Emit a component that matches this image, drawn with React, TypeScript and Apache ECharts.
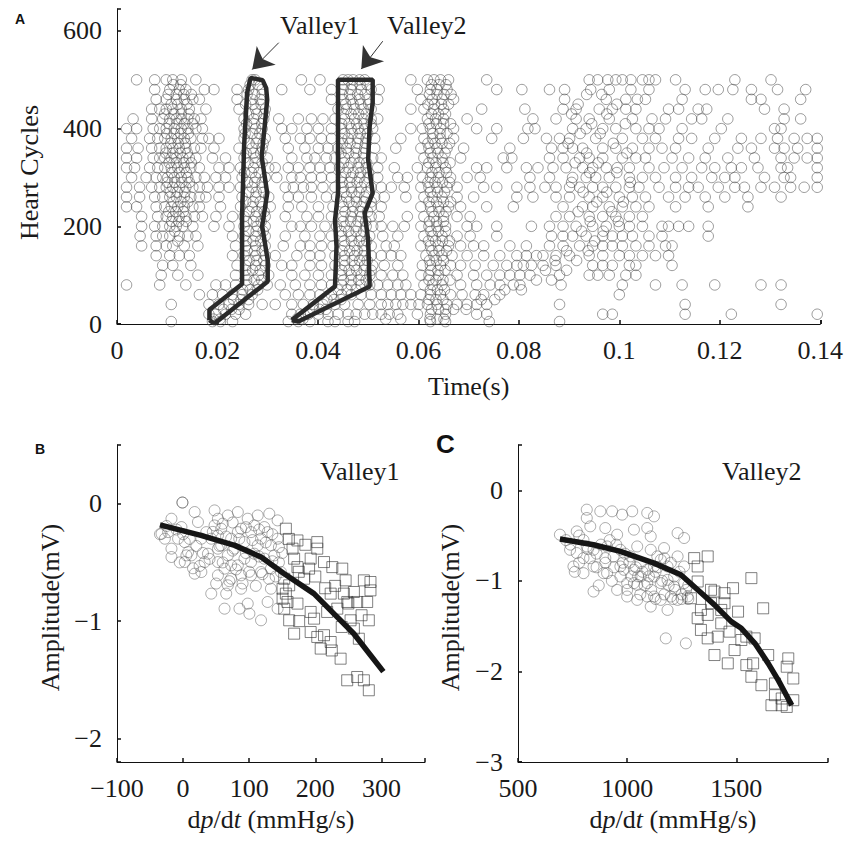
import React, { useEffect, useRef } from 'react';
import * as echarts from 'echarts';

const SERIF = '"Liberation Serif", "Times New Roman", serif';
const SANS = '"Liberation Sans", Arial, sans-serif';

// ---------- Panel A: heart cycles vs valley time ----------
const cyclesA = [500, 480, 460, 440, 420, 400, 380, 360, 340, 320, 300, 280, 260, 240, 220, 200, 180, 160, 140, 120, 100, 80, 60, 40, 20, 5];
const timesA: number[][] = [
  [.0039,.0075,.0098,.0111,.0128,.0157,.0269,.0275,.0367,.0404,.045,.046,.047,.0483,.0493,.0585,.0618,.0631,.0644,.066,.0736,.094,.0957,.0977,.0993,.1006,.1023,.1046,.1059,.1072,.1112,.123,.1302],
  [.0075,.0105,.0124,.0137,.0174,.0193,.0239,.0262,.0289,.0328,.0384,.0427,.045,.0466,.0486,.0506,.0522,.0598,.0624,.0637,.0657,.0756,.0806,.0861,.0891,.0943,.098,.1023,.1059,.1131,.1171,.1197,.1226,.1263,.1315,.1371],
  [.0078,.0098,.0118,.0134,.0151,.0164,.0239,.0269,.0285,.0427,.045,.0466,.0483,.05,.0519,.0605,.0628,.0647,.067,.0891,.0974,.1013,.1036,.1052,.1125,.1263,.1282,.1361],
  [.0069,.0085,.0098,.0111,.0128,.0144,.0177,.0243,.0276,.0295,.044,.0457,.0473,.049,.0506,.0585,.0611,.0631,.065,.0726,.0812,.0888,.0914,.096,.0986,.1013,.1033,.1098,.1118,.1157,.1174,.1289,.1328],
  [.0032,.0069,.0091,.0105,.0118,.0128,.0141,.0154,.0167,.0253,.0272,.0292,.0322,.0361,.0387,.041,.0434,.0453,.0473,.049,.0506,.0519,.0618,.0634,.065,.0697,.0828,.0874,.0914,.094,.098,.1026,.1065,.1092,.1144,.1164,.1216,.1328,.1361],
  [.0019,.0039,.0072,.0085,.0098,.0114,.0128,.0141,.0157,.017,.0253,.0276,.0289,.0328,.0348,.0378,.0401,.0427,.0447,.0466,.048,.0493,.0509,.0585,.0608,.0624,.0644,.067,.0716,.0756,.0818,.0832,.0907,.0934,.0967,.0993,.1033,.1059,.1079,.1125,.1203,.1309,.1322],
  [.0029,.0065,.0081,.0095,.0108,.0121,.0134,.0147,.017,.0183,.0203,.0253,.0279,.0295,.0335,.0365,.0384,.0407,.0427,.0447,.046,.048,.0496,.0513,.0565,.0611,.0628,.0644,.067,.0746,.0809,.0855,.0881,.0901,.0953,.1006,.1046,.1072,.1118,.1144,.119,.1243,.1282,.1315,.1348,.1374,.1394],
  [.0019,.0042,.0069,.0085,.0098,.0111,.0124,.0137,.0154,.0167,.0193,.0243,.0269,.0289,.0341,.0374,.0401,.042,.044,.0457,.0476,.0493,.0513,.0555,.0605,.0621,.0637,.0657,.069,.0782,.0865,.0888,.0907,.0927,.0967,.0993,.1026,.1059,.1085,.1112,.1177,.1236,.1263,.1309,.1328,.1355,.1394],
  [.0019,.0039,.0072,.0085,.0095,.0108,.0118,.0131,.0144,.0157,.019,.0216,.0253,.0276,.0299,.0348,.0378,.0394,.0417,.0434,.0453,.0473,.049,.0509,.0526,.0611,.0628,.0647,.0684,.0769,.0786,.0861,.0888,.0921,.094,.0967,.1006,.1033,.1052,.1105,.1138,.1171,.1216,.1269,.1322,.1348,.1374,.1394],
  [.0019,.0035,.0065,.0081,.0095,.0108,.0121,.0134,.0147,.0164,.0203,.0223,.0246,.0272,.0302,.0315,.0341,.0361,.0384,.0404,.0424,.0443,.046,.048,.0496,.0519,.0552,.0598,.0618,.0634,.0654,.0716,.0736,.0776,.0815,.0838,.0868,.0894,.0927,.0947,.0974,.0996,.102,.1059,.1089,.1125,.1164,.119,.1223,.1243,.1276,.1322,.1335,.1394],
  [.0029,.0058,.0078,.0091,.0101,.0114,.0128,.0141,.0157,.0174,.0197,.0216,.0249,.0276,.0295,.0318,.0348,.0365,.0387,.0407,.0427,.0447,.0466,.0483,.05,.0519,.0559,.0578,.0608,.0624,.064,.0664,.0697,.0723,.0822,.0861,.0907,.0934,.0953,.098,.102,.1046,.1072,.1112,.1144,.1184,.121,.123,.1289,.1328,.1341,.1394],
  [.0019,.0045,.0069,.0085,.0098,.0111,.0124,.0137,.0151,.0164,.018,.0203,.0223,.0246,.0269,.0289,.0335,.0351,.0371,.0387,.041,.0434,.045,.0466,.0486,.0506,.0526,.0546,.0572,.0605,.0621,.0637,.0657,.0677,.073,.0756,.0796,.0822,.0852,.0874,.0901,.0921,.0947,.0967,.0993,.102,.1039,.1079,.1112,.1138,.1157,.1197,.123,.1249,.1282,.1309,.1341,.1368,.1394],
  [.0019,.0045,.0075,.0091,.0105,.0118,.0134,.0147,.0164,.0177,.0203,.0249,.0276,.0302,.0341,.0361,.0387,.0417,.0437,.0457,.0476,.0493,.0513,.0532,.0575,.0611,.0628,.0647,.0677,.071,.0796,.0828,.0874,.0901,.094,.0967,.1,.1026,.1052,.1098,.1131,.1171,.121,.1256,.1322],
  [.0019,.0039,.0078,.0095,.0108,.0121,.0134,.0151,.0164,.0206,.0246,.0269,.0289,.0305,.0341,.0368,.0401,.043,.045,.047,.0486,.0506,.0526,.0605,.0624,.064,.066,.0684,.0736,.0789,.0888,.0927,.0947,.098,.1006,.1033,.1059,.1112,.1177,.1256],
  [.0049,.0081,.0098,.0111,.0124,.0137,.0154,.017,.0197,.023,.0253,.0276,.0295,.0335,.0378,.0401,.0427,.045,.0466,.0486,.0506,.0522,.0578,.0611,.0631,.065,.0677,.0703,.0874,.0901,.094,.0967,.0993,.102,.1046],
  [.0049,.0075,.0091,.0105,.0118,.0131,.0151,.0193,.0223,.0253,.0279,.0295,.0348,.0365,.0387,.0414,.0437,.0453,.0476,.0496,.0509,.0526,.0549,.0572,.0605,.0621,.0637,.0654,.0697,.0716,.0756,.0825,.0861,.0888,.0914,.0947,.0974,.1,.102,.1046,.1085,.1098,.1118,.1138,.1177],
  [.0046,.0078,.0091,.0105,.0124,.0141,.0157,.023,.0253,.0276,.0295,.0335,.0374,.0404,.0427,.0447,.0466,.0486,.0503,.0529,.0559,.0611,.0628,.0647,.0677,.0703,.0756,.0865,.0888,.0907,.0934,.0967,.0986,.1006,.1026,.1059,.1085,.1177],
  [.0049,.0078,.0098,.0111,.0134,.0161,.0236,.0256,.0276,.0295,.0331,.0365,.0384,.0407,.043,.0453,.0473,.049,.0506,.0536,.0552,.0605,.0624,.064,.066,.0684,.071,.073,.0782,.0815,.0861,.0888,.0921,.0947,.0967,.0986,.1006,.1033,.1059,.1092,.1105],
  [.0078,.0105,.0124,.0144,.023,.0253,.0276,.0295,.0315,.0358,.0384,.0404,.0434,.0453,.0473,.049,.0506,.0526,.0546,.0565,.0615,.0631,.0647,.0667,.0697,.073,.0762,.0796,.0815,.0835,.0848,.0874,.0901,.094,.0967,.1,.102,.1046,.1072,.1098],
  [.0091,.0111,.0147,.0239,.0256,.0276,.0295,.0328,.0348,.0384,.0407,.0434,.0453,.0473,.0493,.0509,.0532,.0559,.0608,.0624,.0644,.0664,.0684,.0713,.0749,.0776,.0796,.0809,.0825,.0848,.0874,.0947,.0967,.0986,.102,.1033,.1105],
  [.0088,.0121,.0161,.0236,.0259,.0282,.0302,.0348,.0374,.0401,.0427,.0447,.0466,.0486,.0503,.0526,.0549,.0569,.0605,.0621,.064,.0677,.071,.0736,.0762,.0782,.0802,.0822,.0881,.094,.0957,.098,.1013,.1033],
  [.0019,.0085,.0137,.0197,.0216,.0236,.0259,.0282,.0299,.0325,.0355,.0384,.0407,.0427,.0447,.0466,.0486,.0503,.0519,.0539,.0559,.0575,.0611,.0628,.0647,.0684,.0716,.0743,.0762,.0789,.0802,.0884,.1006,.1072,.1125,.119,.1282,.1322],
  [.0164,.019,.021,.023,.0249,.0269,.0335,.0361,.0384,.0404,.0427,.0447,.0466,.0486,.0506,.0526,.0546,.0565,.0585,.0605,.0624,.0644,.0664,.0687,.0713,.073,.0762,.1],
  [.0108,.0183,.0203,.0223,.0243,.0262,.0289,.0315,.0348,.0371,.0391,.041,.0434,.0453,.048,.0503,.0526,.0539,.0555,.0569,.0585,.0601,.0618,.0637,.0657,.0677,.0697,.0716,.0736,.0881,.1131,.1322],
  [.0183,.0197,.0216,.0236,.0256,.0348,.0365,.0381,.0401,.042,.044,.046,.0476,.0493,.0509,.0526,.0542,.0559,.0598,.0624,.0654,.0716,.0736,.0967,.0986,.1131,.1223,.1394],
  [.0108,.019,.0206,.023,.0341,.0361,.0384,.042,.0434,.046,.0473,.0624,.0654,.0741,.0881],
];
const cyclesA2 = [490, 470, 450, 430, 410, 390, 370, 350, 330, 310, 290, 270, 250, 230, 210, 190, 170, 150, 130, 110, 90, 70, 50, 30, 10];
const timesA2: number[][] = [
  [.0112,.0127,.0265,.0281,.0452,.0468,.0484,.0498,.0626,.0641,.0655],
  [.0102,.0118,.0133,.0148,.0259,.0274,.0289,.0448,.0463,.0479,.0494,.0622,.0637,.0651,.0665,.0935,.0965],
  [.0108,.0121,.0139,.0256,.0271,.0287,.0455,.047,.0485,.0501,.0619,.0632,.0646,.066,.0918,.0995],
  [.0095,.0113,.0128,.0143,.0262,.0278,.0293,.0451,.0466,.0481,.0496,.0626,.064,.0654,.0905,.0975],
  [.0104,.0119,.0134,.0151,.0258,.0273,.0288,.0447,.0462,.0477,.0492,.0506,.0621,.0636,.065,.0664,.0945,.1012],
  [.0099,.0114,.0127,.0142,.0255,.0269,.0284,.0453,.0468,.0484,.0499,.0629,.0643,.0657,.0922,.0962],
  [.0107,.0122,.0136,.0263,.0277,.0291,.0449,.0464,.0479,.0495,.0619,.0633,.0647,.0662,.0898,.0988],
  [.0097,.0111,.0126,.014,.0257,.0272,.0286,.0446,.0461,.0476,.0491,.0624,.0639,.0653,.0935,.1015],
  [.0104,.0118,.0133,.0148,.0261,.0275,.0289,.0451,.0466,.0482,.0497,.0621,.0635,.0649,.0663,.0912,.0958],
  [.0109,.0124,.0138,.0254,.0268,.0283,.0455,.047,.0485,.05,.0627,.0641,.0656,.0941,.0995],
  [.01,.0115,.0129,.0144,.026,.0274,.0289,.0448,.0463,.0478,.0493,.0619,.0633,.0648,.0662,.0905,.1022],
  [.0106,.012,.0135,.0262,.0277,.0292,.0452,.0467,.0482,.0497,.0624,.0638,.0652,.0928,.0975],
  [.0112,.0127,.0141,.0256,.0271,.0285,.0447,.0462,.0477,.0492,.0506,.0621,.0636,.065,.0664,.0955,.1008],
  [.0103,.0117,.0132,.0263,.0278,.0293,.0454,.0469,.0484,.0499,.0627,.0641,.0655,.0918,.0985],
  [.0109,.0123,.0138,.0258,.0272,.0287,.045,.0465,.048,.0495,.0622,.0636,.065,.0942,.0998],
  [.0115,.0262,.0277,.0291,.0446,.0461,.0476,.0491,.0625,.064,.0654,.0925,.0968],
  [.0121,.0257,.0271,.0286,.0452,.0467,.0482,.0497,.062,.0634,.0648,.0662,.0951],
  [.0259,.0274,.0289,.0448,.0463,.0478,.0493,.0627,.0641,.0656,.0895,.0938],
  [.0263,.0278,.0292,.0453,.0468,.0483,.0498,.0622,.0636,.065,.0872,.0915],
  [.0256,.027,.0285,.0447,.0462,.0477,.0492,.0506,.0625,.0639,.0653,.0853,.0895],
  [.0258,.0273,.0288,.0451,.0466,.0481,.0496,.0621,.0635,.0649,.0663,.0835,.0865],
  [.025,.0265,.028,.044,.0458,.0476,.0624,.0638,.0652,.0805,.0772],
  [.0232,.0247,.0262,.0418,.0432,.0446,.0621,.0635,.0649,.0752,.0725],
  [.0212,.0228,.0243,.039,.0403,.0416,.0626,.064,.0654,.0695,.067],
  [.0192,.0205,.0358,.037,.0623,.0637,.0651,.0535,.0565],
];
// Valley outlines (time, cycle)
const valley1Time = [.0184, .0184, .0249, .0249, .0253, .0259, .0266, .0290, .0297, .0299, .0294, .0288, .0299, .0289, .0300, .0300, .0194, .0184];
const valley1Cycle = [8, 29, 82, 220, 364, 473, 504, 499, 483, 459, 405, 343, 268, 200, 131, 87, 1, 8];
const valley2Time = [.0348, .0434, .0437, .0434, .0440, .0440, .0509, .0509, .0503, .0500, .0509, .0493, .0500, .0503, .0361, .0348];
const valley2Cycle = [8, 77, 159, 213, 268, 500, 500, 453, 405, 336, 268, 227, 172, 77, 5, 8];
// Arrows (start, tip) in data coords
const arrow1 = [[.0322, 576], [.02691, 521]];
const arrow2 = [[.0529, 579], [.04863, 522]];

// ---------- Panel B: Valley1 ----------
const bCircles: number[][] = [
  [-1,0.01],[-1,0.01],[-17.6,-0.128],[-32.6,-0.256],[-22.6,-0.242],[-2.5,-0.199],[17.5,-0.071],[22.5,-0.156],[47.6,-0.057],[52.7,-0.128],
  [57.7,-0.213],[67.7,-0.1],[82.8,-0.071],[97.8,-0.128],[112.9,-0.1],[130.4,-0.085],[143,-0.142],[127.9,-0.242],[102.8,-0.242],[82.8,-0.242],
  [72.7,-0.298],[42.6,-0.298],[27.6,-0.298],[2.5,-0.327],[-17.6,-0.383],[7.5,-0.412],[-17.6,-0.454],[2.5,-0.497],[17.5,-0.596],[27.6,-0.582],
  [37.6,-0.426],[52.7,-0.383],[67.7,-0.44],[77.7,-0.383],[92.8,-0.327],[112.9,-0.355],[132.9,-0.355],[143,-0.298],[137.9,-0.44],[122.9,-0.468],
  [102.8,-0.497],[82.8,-0.525],[62.7,-0.553],[52.7,-0.61],[72.7,-0.639],[87.8,-0.61],[102.8,-0.61],[117.9,-0.582],[132.9,-0.553],[148,-0.582],
  [67.7,-0.695],[87.8,-0.724],[42.6,-0.766],[65.2,-0.766],[97.8,-0.851],[62.7,-0.894],[85.3,-0.894],[100.3,-0.937],[117.9,-0.993],[127.9,-0.837],
  [143,-0.894],[132.9,-0.724],[52.7,-0.497],[72.7,-0.525],[92.8,-0.468],[107.8,-0.426],[117.9,-0.298],[52.7,-0.27],[12.5,-0.44],[32.6,-0.497],
  [57.7,-0.355],[87.8,-0.213],[107.8,-0.185],[122.9,-0.199],[47.6,-0.185],[35.1,-0.242],[-7.6,-0.298],[-27.6,-0.298],
  [60,-0.17],[75,-0.16],[95,-0.2],[115,-0.22],[135,-0.26],[45,-0.24],[65,-0.28],[85,-0.3],[105,-0.31],[125,-0.33],
  [145,-0.37],[55,-0.36],[75,-0.4],[95,-0.42],[115,-0.45],[135,-0.49],[40,-0.47],[60,-0.5],[80,-0.56],[100,-0.58],
  [120,-0.6],[140,-0.62],[30,-0.42],[20,-0.36],[10,-0.3],[0,-0.26],[-10,-0.22],[-25,-0.19],[-35,-0.26],[70,-0.66],
  [90,-0.68],[110,-0.7],[130,-0.64],[50,-0.68],[25,-0.53],[5,-0.44],[-5,-0.5],[15,-0.55],[145,-0.5],[150,-0.42],
];
const bSquares: number[][] = [
  [155.5,-0.213],[173,-0.313],[203,-0.327],[203,-0.383],[165.6,-0.383],[168,-0.468],[193,-0.468],[190.6,-0.553],[225.8,-0.54],[240.8,-0.553],
  [173,-0.54],[153,-0.639],[245.9,-0.653],[273.5,-0.653],[258.4,-0.752],[283.5,-0.738],[223.3,-0.766],[243.3,-0.766],[155.5,-0.766],[158,-0.837],
  [173,-0.851],[153,-0.894],[193,-0.922],[218,-0.922],[263.4,-0.837],[278.5,-0.837],[160.5,-0.993],[175.6,-1.0],[198.2,-0.979],[253.4,-0.993],
  [281,-0.993],[168,-1.107],[203,-1.135],[223.3,-1.178],[208.2,-1.234],[258.4,-1.064],[265.9,-1.15],[238.3,-1.32],[248.3,-1.504],[273.5,-1.504],
  [263.4,-1.476],[281,-1.589],[283.5,-0.667],[150.5,-0.724],[150.5,-0.809],[160.5,-0.695],[183,-0.639],[213.2,-0.497],[233.3,-0.894],[248.4,-0.837],
  [213.2,-1.12],[193,-1.093],[160,-0.3],[185,-0.35],[175,-0.58],[200,-0.62],[215,-0.72],[230,-0.7],[250,-0.85],[270,-0.95],[240,-1.05],[225,-1.25],
];
const bFitX = [-35, 27, 78, 118, 153, 198, 228, 258, 278, 303];
const bFitY = [-0.18, -0.27, -0.355, -0.454, -0.596, -0.766, -0.936, -1.106, -1.25, -1.43];

// ---------- Panel C: Valley2 ----------
const cCircles: number[][] = [
  [692,-0.49],[769,-0.454],[815,-0.214],[815,-0.306],[877,-0.232],[931,-0.232],[977,-0.269],[1023,-0.232],[1092,-0.25],[1123,-0.288],
  [831,-0.398],[900,-0.417],[954,-0.49],[1031,-0.435],[1092,-0.417],[1108,-0.509],[1231,-0.472],[1261,-0.527],[738.5,-0.657],[800,-0.749],
  [846,-0.841],[900,-0.749],[800,-0.915],[846,-1.118],[908,-0.915],[954,-1.1],[985,-0.878],[1015,-0.73],[1046,-0.62],[1062,-0.804],
  [1000,-1.025],[1046,-1.044],[1092,-1.173],[1108,-1.284],[1123,-0.952],[1138,-0.73],[1169,-0.638],[1185,-0.841],[1215,-1.063],[1231,-1.21],
  [1185,-1.321],[1277,-1.173],[1261,-1.025],[1261,-0.841],[1231,-0.73],[1177,-1.635],[1269,-1.69],[1092,-0.878],[969,-0.841],[908,-0.62],
  [969,-0.657],[1031,-0.878],[1154,-1.025],[1123,-1.173],[1046,-1.21],[1000,-1.173],[1215,-0.952],[1062,-0.952],[1123,-0.841],[1185,-0.989],
  [1154,-0.767],[1108,-0.657],[1200,-1.173],[1154,-1.21],[1092,-1.025],[1031,-1.025],[969,-0.952],[892,-0.915],[846,-0.657],[938,-0.73],
  [815,-0.62],[769,-0.693],[754,-0.841],
  [720,-0.55],[740,-0.6],[780,-0.5],[800,-0.55],[820,-0.65],[860,-0.7],[880,-0.6],[920,-0.55],[950,-0.6],[990,-0.7],
  [1010,-0.8],[1040,-0.85],[1070,-0.9],[1100,-0.95],[1130,-0.9],[1160,-1.0],[1190,-1.05],[1220,-1.1],[1250,-1.15],[1280,-1.2],
  [1270,-1.1],[1240,-0.9],[1200,-0.8],[1170,-0.75],[1140,-0.85],[1110,-1.1],[1080,-1.05],[1050,-0.95],[1020,-0.95],[980,-0.8],
  [940,-0.85],[900,-0.8],[860,-0.85],[830,-0.75],[780,-0.8],[760,-0.9],[870,-1.05],[930,-1.0],[1000,-1.1],[1060,-1.15],
  [1130,-1.2],[1170,-1.15],[1210,-1.2],[1250,-1.2],[1280,-1.05],
];
const cSquares: number[][] = [
  [1307,-0.749],[1369,-0.73],[1323,-0.841],[1323,-1.007],[1569,-0.97],[1485,-1.081],[1400,-1.118],[1446,-1.136],[1384,-1.247],[1431,-1.321],
  [1508,-1.34],[1623,-1.303],[1323,-1.413],[1338,-1.542],[1369,-1.635],[1415,-1.616],[1469,-1.561],[1546,-1.616],[1584,-1.635],[1492,-1.764],
  [1400,-1.819],[1461,-1.911],[1546,-1.93],[1577,-1.911],[1569,-2.059],[1615,-2.152],[1646,-1.819],[1677,-2.133],[1677,-2.262],[1708,-2.299],
  [1738,-1.856],[1731,-1.948],[1761,-2.078],[1761,-2.318],[1708,-2.373],[1661,-2.373],[1731,-2.392],[1369,-1.376],[1431,-1.469],[1523,-1.653],
  [1338,-1.321],[1292,-1.192],[1384,-1.099],[1446,-1.247],
];
const cFitX = [692, 846, 969, 1123, 1246, 1323, 1400, 1477, 1523, 1585, 1646, 1692, 1754];
const cFitY = [-0.538, -0.601, -0.675, -0.804, -0.933, -1.099, -1.265, -1.45, -1.524, -1.69, -1.911, -2.096, -2.373];

// tick values
const aXTicks = [0, 0.02, 0.04, 0.06, 0.08, 0.1, 0.12, 0.14];
const aYTicks = [0, 200, 400, 600];
const bXTicks = [-100, 0, 100, 200, 300];
const bYTicks = [-2, -1, 0];
const cXTicks = [500, 1000, 1500];
const cYTicks = [-3, -2, -1, 0];

const minus = (v: number) => String(v).replace('-', '\u2212');

const labelStyle = { fontFamily: SERIF, fontSize: 26, color: '#1a1a1a' };
const nameStyle = { fontFamily: SERIF, fontSize: 26, color: '#1a1a1a' };
const axisLine = { show: true, onZero: false, lineStyle: { color: '#111', width: 1 } };

function xAxis(gridIndex: number, min: number, max: number, ticks: number[], name: any, nameGap: number, rich?: any) {
  return {
    type: 'value', gridIndex, min, max, position: 'bottom',
    axisLine, splitLine: { show: false },
    axisTick: { show: true, inside: true, length: 4, lineStyle: { color: '#111', width: 1.5 }, customValues: [...ticks, max] },
    axisLabel: { show: true, ...labelStyle, margin: 13, customValues: ticks, formatter: minus },
    name, nameLocation: 'middle', nameGap, nameTextStyle: rich ? { ...nameStyle, rich } : nameStyle,
  };
}
function yAxis(gridIndex: number, min: number, max: number, ticks: number[], name: string, nameGap: number, pad: number) {
  return {
    type: 'value', gridIndex, min, max, position: 'left',
    axisLine, splitLine: { show: false },
    axisTick: { show: true, inside: true, length: 4, lineStyle: { color: '#111', width: 1.5 }, customValues: [min, ...ticks, max] },
    axisLabel: { show: true, ...labelStyle, margin: 15, customValues: ticks, formatter: minus },
    name, nameLocation: 'middle', nameGap, nameRotate: 90, nameTextStyle: { ...nameStyle, padding: [0, pad, 0, 0] },
  };
}

const circleStyle = { color: 'rgba(0,0,0,0)', borderColor: 'rgba(70,70,70,0.75)', borderWidth: 0.9 };
const squareStyle = { color: 'rgba(0,0,0,0)', borderColor: 'rgba(50,50,50,0.85)', borderWidth: 0.9 };

export default function App() {
  const ref = useRef<HTMLDivElement>(null);
  useEffect(() => {
    if (!ref.current) return;
    const chart = echarts.init(ref.current, undefined, { renderer: 'svg' });
    const pointsA = [
      ...cyclesA.flatMap((c, i) => timesA[i].map((t) => [t, c])),
      ...cyclesA2.flatMap((c, i) => timesA2[i].map((t) => [t, c])),
    ];
    const dpRich = {
      n: { fontFamily: SERIF, fontSize: 26, color: '#1a1a1a' },
      i: { fontFamily: SERIF, fontSize: 26, fontStyle: 'italic', color: '#1a1a1a' },
    };
    const dpName = '{n|d}{i|p}{n|/d}{i|t}{n| (mmHg/s)}';
    const arrowMark = (a: number[][]) => ({
      silent: true, symbol: ['none', 'arrow'], symbolSize: 20, label: { show: false },
      lineStyle: { color: '#333', width: 1, type: 'solid' }, emphasis: { disabled: true },
      data: [[{ coord: a[0] }, { coord: a[1] }]],
    });
    const option: any = {
      animation: false,
      backgroundColor: '#fff',
      textStyle: { fontFamily: SERIF, fontSize: 26, color: '#1a1a1a' },
      grid: [
        { left: 117, top: 9, width: 709, height: 315 },
        { left: 117, top: 445, width: 308, height: 317 },
        { left: 518, top: 445, width: 310, height: 317 },
      ],
      xAxis: [
        xAxis(0, 0, 0.14, aXTicks, 'Time(s)', 49),
        xAxis(1, -100, 366, bXTicks, dpName, 44, dpRich),
        xAxis(2, 500, 1920, cXTicks, dpName, 44, dpRich),
      ],
      yAxis: [
        yAxis(0, 0, 645, aYTicks, 'Heart Cycles', 75, 12),
        yAxis(1, -2.2, 0.5, bYTicks, 'Amplitude(mV)', 54, 8),
        yAxis(2, -3, 0.5, cYTicks, 'Amplitude(mV)', 55, 8),
      ],
      series: [
        { type: 'scatter', xAxisIndex: 0, yAxisIndex: 0, data: pointsA, symbol: 'circle', symbolSize: 10.5, itemStyle: circleStyle, silent: true },
        {
          type: 'line', xAxisIndex: 0, yAxisIndex: 0, data: valley1Time.map((t, i) => [t, valley1Cycle[i]]),
          symbol: 'none', lineStyle: { color: '#2a2a2a', width: 4.5 }, silent: true, markLine: arrowMark(arrow1),
        },
        {
          type: 'line', xAxisIndex: 0, yAxisIndex: 0, data: valley2Time.map((t, i) => [t, valley2Cycle[i]]),
          symbol: 'none', lineStyle: { color: '#2a2a2a', width: 4.5 }, silent: true, markLine: arrowMark(arrow2),
        },
        { type: 'scatter', xAxisIndex: 1, yAxisIndex: 1, data: bCircles, symbol: 'circle', symbolSize: 11, itemStyle: { ...circleStyle, borderColor: 'rgba(90,90,90,0.7)' }, silent: true },
        { type: 'scatter', xAxisIndex: 1, yAxisIndex: 1, data: bSquares, symbol: 'rect', symbolSize: 11, itemStyle: squareStyle, silent: true },
        { type: 'line', xAxisIndex: 1, yAxisIndex: 1, data: bFitX.map((x, i) => [x, bFitY[i]]), symbol: 'none', lineStyle: { color: '#151515', width: 5.5 }, silent: true },
        { type: 'scatter', xAxisIndex: 2, yAxisIndex: 2, data: cCircles, symbol: 'circle', symbolSize: 11, itemStyle: { ...circleStyle, borderColor: 'rgba(90,90,90,0.7)' }, silent: true },
        { type: 'scatter', xAxisIndex: 2, yAxisIndex: 2, data: cSquares, symbol: 'rect', symbolSize: 11, itemStyle: squareStyle, silent: true },
        { type: 'line', xAxisIndex: 2, yAxisIndex: 2, data: cFitX.map((x, i) => [x, cFitY[i]]), symbol: 'none', lineStyle: { color: '#151515', width: 5.5 }, silent: true },
      ],
      graphic: [
        { type: 'text', left: 15, top: 12, style: { text: 'A', fontFamily: SANS, fontWeight: 'bold', fontSize: 14, fill: '#111' } },
        { type: 'text', left: 35, top: 442, style: { text: 'B', fontFamily: SANS, fontWeight: 'bold', fontSize: 14, fill: '#111' } },
        { type: 'text', left: 436, top: 431, style: { text: 'C', fontFamily: SANS, fontWeight: 'bold', fontSize: 26, fill: '#111' } },
        { type: 'text', left: 280, top: 12, style: { text: 'Valley1', fontFamily: SERIF, fontSize: 26, fill: '#1a1a1a' } },
        { type: 'text', left: 387, top: 12, style: { text: 'Valley2', fontFamily: SERIF, fontSize: 26, fill: '#1a1a1a' } },
        { type: 'text', left: 320, top: 458, style: { text: 'Valley1', fontFamily: SERIF, fontSize: 26, fill: '#1a1a1a' } },
        { type: 'text', left: 722, top: 458, style: { text: 'Valley2', fontFamily: SERIF, fontSize: 26, fill: '#1a1a1a' } },
      ],
    };
    chart.setOption(option);
    return () => chart.dispose();
  }, []);
  return <div ref={ref} style={{ position: 'fixed', left: 0, top: 0, width: 846, height: 841, background: '#fff' }} />;
}
